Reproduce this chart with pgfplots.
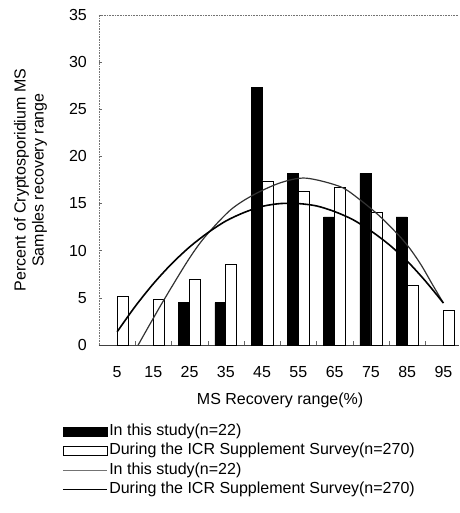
\documentclass[border=0pt]{standalone}
\usepackage{fontspec}
\setmainfont{Liberation Sans}
\usepackage{pgfplots}
\pgfplotsset{compat=1.18}
\newcommand{\ff}{\fontsize{16}{18}\selectfont}
\begin{document}
\begin{tikzpicture}
\path[use as bounding box] (-99pt,-168pt) rectangle (360pt,345pt);
\begin{axis}[
  at={(0pt,0pt)}, anchor=south west,
  scale only axis, width=360pt, height=330pt,
  xmin=-0.5, xmax=9.43, ymin=0, ymax=35,
  clip=false,
  axis x line*=bottom, axis y line*=left,
  x axis line style={black!75, line width=0.6pt},
  y axis line style={black!55, densely dotted, line width=0.6pt},
  xtick={0,...,9}, xticklabels={5,15,25,35,45,55,65,75,85,95},
  ytick={0,5,...,35},
  tick align=inside, major tick length=3pt,
  xtick style={draw=none},
  ytick style={black!60, line width=0.5pt},
  extra x ticks={0.5,1.5,...,8.5}, extra x tick labels={},
  extra x tick style={xtick style={draw=black!60, line width=0.5pt}, major tick length=4pt},
  /pgf/number format/assume math mode=true,
  tick label style={font=\ff},
  xticklabel style={anchor=base, yshift=-32pt},
  yticklabel style={anchor=east, inner sep=0pt, xshift=-12pt},
  xlabel={MS Recovery range(\%)},
  every axis x label/.style={at={(axis description cs:0.503,-0.1788)}, anchor=base, font=\ff},
  ylabel={Percent of Cryptosporidium MS\\Samples recovery range},
  every axis y label/.style={at={(axis description cs:-0.1900,0.5)}, rotate=90, anchor=center, align=center, font=\ff},
  legend style={at={(axis description cs:-0.1028,-0.237)}, anchor=north west, draw=none, fill=none, inner sep=0pt,
    font=\ff, row sep=3.4pt, cells={anchor=west},
    nodes={inner sep=0pt, text height=12pt, text depth=4pt},
    /tikz/column 1/.style={column sep=1.5pt}},
  legend cell align=left,
]
\addplot[ybar, bar width=11pt, bar shift=-5.5pt, fill=black, draw=black,
  legend image code/.code={\draw[black, fill=black] (0pt,-4.5pt) rectangle (44pt,4.5pt);}]
  coordinates {(2,4.5) (3,4.5) (4,27.3) (5,18.2) (6,13.6) (7,18.2) (8,13.6)};
\addlegendentry{In this study(n=22)}
\addplot[ybar, bar width=11pt, bar shift=5.5pt, fill=white, draw=black, line width=0.8pt,
  legend image code/.code={\draw[black, fill=white, line width=0.8pt] (0pt,-4.5pt) rectangle (44pt,4.5pt);}]
  coordinates {(0,5.2) (1,4.8) (2,7.0) (3,8.5) (4,17.4) (5,16.3) (6,16.7) (7,14.1) (8,6.3) (9,3.7)};
\addlegendentry{During the ICR Supplement Survey(n=270)}
\addplot[smooth, black!80, line width=1.2pt,
  legend image code/.code={\draw[black!55, line width=0.9pt] (0pt,0pt) -- (44pt,0pt);}]
  coordinates {(0.58,0) (1.24,4.45) (1.96,9.0) (2.43,11.5) (3.12,14.3) (3.75,15.9) (4.5,17.2) (5.2,17.7) (6.15,16.8) (6.7,15.4) (7.26,13.6) (7.8,11.5) (8.1,10.1) (8.4,8.4) (8.7,6.4) (9.0,4.45)};
\addlegendentry{In this study(n=22)}
\addplot[smooth, black, line width=1.6pt,
  legend image code/.code={\draw[black, line width=1.6pt] (0pt,0pt) -- (44pt,0pt);}]
  coordinates {(0,1.4) (0.5,4.1) (1,6.5) (1.5,8.6) (2,10.4) (2.5,11.9) (3,13.15) (3.5,14.05) (4,14.7) (4.5,15.0) (5,15.0) (5.5,14.75) (6,14.15) (6.5,13.3) (7,12.1) (7.5,10.65) (8,8.9) (8.5,6.8) (9,4.45)};
\addlegendentry{During the ICR Supplement Survey(n=270)}
\draw[black!55, densely dotted, line width=0.6pt] (axis cs:-0.5,35) -- (axis cs:9.43,35);
\end{axis}
\end{tikzpicture}
\end{document}
